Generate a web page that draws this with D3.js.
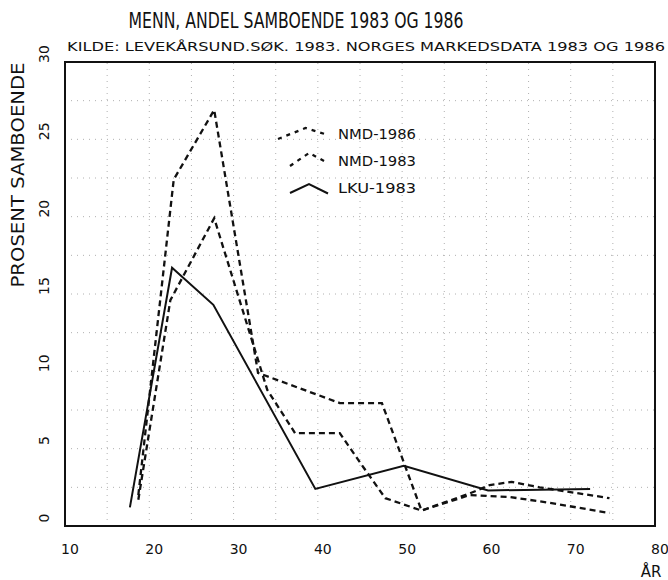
<!DOCTYPE html>
<meta charset="utf-8">
<style>
body { margin: 0; background: #fff; }
text { font-family: "DejaVu Sans", sans-serif; fill: #111; }
.grid line { stroke: #b0b0b0; stroke-width: 1; stroke-dasharray: 1 5; }
</style>
<svg width="668" height="580"></svg>
<script src="https://cdn.jsdelivr.net/npm/d3@7"></script>
<script>

var title = "MENN, ANDEL SAMBOENDE 1983 OG 1986"
var source = "KILDE: LEVEKÅRSUND.SØK. 1983. NORGES MARKEDSDATA 1983 OG 1986"

var xTicks = [10, 20, 30, 40, 50, 60, 70, 80]
var yTicks = [0, 5, 10, 15, 20, 25, 30]
var xGrid = [15, 20, 25, 30, 35, 40, 45, 50, 55, 60, 65, 70, 75]
var yGrid = [2.5, 5, 7.5, 10, 12.5, 15, 17.5, 20, 22.5, 25, 27.5]

// age, percent
var nmd1986 = [[18.7, 2.0], [22.9, 22.4], [27.7, 26.9], [32.9, 9.9], [42.6, 7.95], [47.6, 7.95],
  [52.3, 1.0], [58, 2.1], [60.4, 2.65], [63, 2.85], [66.3, 2.5], [74.6, 1.8]]
var nmd1983 = [[18.7, 1.7], [22.5, 14.6], [27.7, 19.9], [34, 8.8], [37.3, 6.0], [42.6, 6.0],
  [45.4, 3.8], [48, 1.8], [52.3, 1.0], [58, 2.0], [62.8, 1.87], [67.5, 1.5], [74.6, 0.84]]
var lku1983 = [[17.7, 1.2], [22.7, 16.7], [27.6, 14.3], [39.7, 2.4], [50.2, 3.9], [60.2, 2.3], [72.3, 2.4]]

var seriesNames = ["NMD-1986", "NMD-1983", "LKU-1983"]

var svg = d3.select("svg")

var x = d3.scaleLinear().domain([10, 80]).range([65, 655])
var y = d3.scaleLinear().domain([0, 30]).range([526, 62])

// grid
var grid = svg.append("g").attr("class", "grid")
grid.selectAll(".gx").data(xGrid).enter().append("line")
    .attr("x1", function(d) { return x(d) }).attr("x2", function(d) { return x(d) })
    .attr("y1", y(0)).attr("y2", y(30))
grid.selectAll(".gy").data(yGrid).enter().append("line")
    .attr("y1", function(d) { return y(d) }).attr("y2", function(d) { return y(d) })
    .attr("x1", x(10)).attr("x2", x(80))

// frame
svg.append("rect")
    .attr("x", x(10)).attr("y", y(30))
    .attr("width", x(80) - x(10)).attr("height", y(0) - y(30))
    .attr("fill", "none").attr("stroke", "#111").attr("stroke-width", 2)

// axis labels
svg.selectAll(".xt").data(xTicks).enter().append("text")
    .attr("x", function(d) { return x(d) + 5 })
    .attr("y", 554)
    .attr("text-anchor", "middle")
    .style("font-size", "14px")
    .text(function(d) { return d })

svg.selectAll(".yt").data(yTicks).enter().append("text")
    .attr("transform", function(d) { return "translate(49," + (y(d) - 8) + ") rotate(-90)" })
    .attr("text-anchor", "middle")
    .style("font-size", "14px")
    .text(function(d) { return d })

svg.append("text")
    .attr("transform", "translate(24,175) rotate(-90)")
    .attr("text-anchor", "middle")
    .attr("textLength", 225).attr("lengthAdjust", "spacingAndGlyphs")
    .style("font-size", "18px")
    .text("PROSENT SAMBOENDE")

svg.append("text")
    .attr("x", 651).attr("y", 577)
    .attr("text-anchor", "middle")
    .style("font-size", "15px")
    .text("ÅR")

svg.append("text")
    .attr("x", 296).attr("y", 28)
    .attr("text-anchor", "middle")
    .attr("textLength", 335).attr("lengthAdjust", "spacingAndGlyphs")
    .style("font-size", "21px")
    .text(title)

svg.append("text")
    .attr("x", 67).attr("y", 51)
    .attr("textLength", 598).attr("lengthAdjust", "spacingAndGlyphs")
    .style("font-size", "13px")
    .text(source)

// lines
var line = d3.line()
    .x(function(d) { return x(d[0]) })
    .y(function(d) { return y(d[1]) })

var styles = [
  {dash: "6 4", width: 2.3},
  {dash: "6 4", width: 2.3},
  {dash: null, width: 2}
]

var all = [nmd1986, nmd1983, lku1983]

svg.selectAll(".series").data(all).enter().append("path")
    .attr("d", line)
    .attr("fill", "none")
    .attr("stroke", "#111")
    .attr("stroke-width", function(d, i) { return styles[i].width })
    .attr("stroke-dasharray", function(d, i) { return styles[i].dash })

// legend: small chevron samples
var shapes = [
  [[0, 0.2], [0.55, -0.9], [1, -0.2]],
  [[0.24, 0.2], [0.62, -1.1], [1, -0.1]],
  [[0.24, 0.2], [0.62, -0.7], [1, 0.25]]
]
var lx = d3.scaleLinear().domain([0, 1]).range([278, 328])
var legend = svg.selectAll(".legend").data(seriesNames).enter().append("g")
    .attr("transform", function(d, i) { return "translate(0," + (137 + i * 27) + ")" })

legend.append("path")
    .attr("d", function(d, i) {
      return d3.line()
        .x(function(p) { return lx(p[0]) })
        .y(function(p) { return p[1] * 10 })(shapes[i])
    })
    .attr("fill", "none")
    .attr("stroke", "#111")
    .attr("stroke-width", function(d, i) { return styles[i].width })
    .attr("stroke-dasharray", function(d, i) { return i == 2 ? null : "4 5" })

legend.append("text")
    .attr("x", 338).attr("y", 2)
    .attr("textLength", 78).attr("lengthAdjust", "spacingAndGlyphs")
    .style("font-size", "14px")
    .text(function(d) { return d })

</script>
